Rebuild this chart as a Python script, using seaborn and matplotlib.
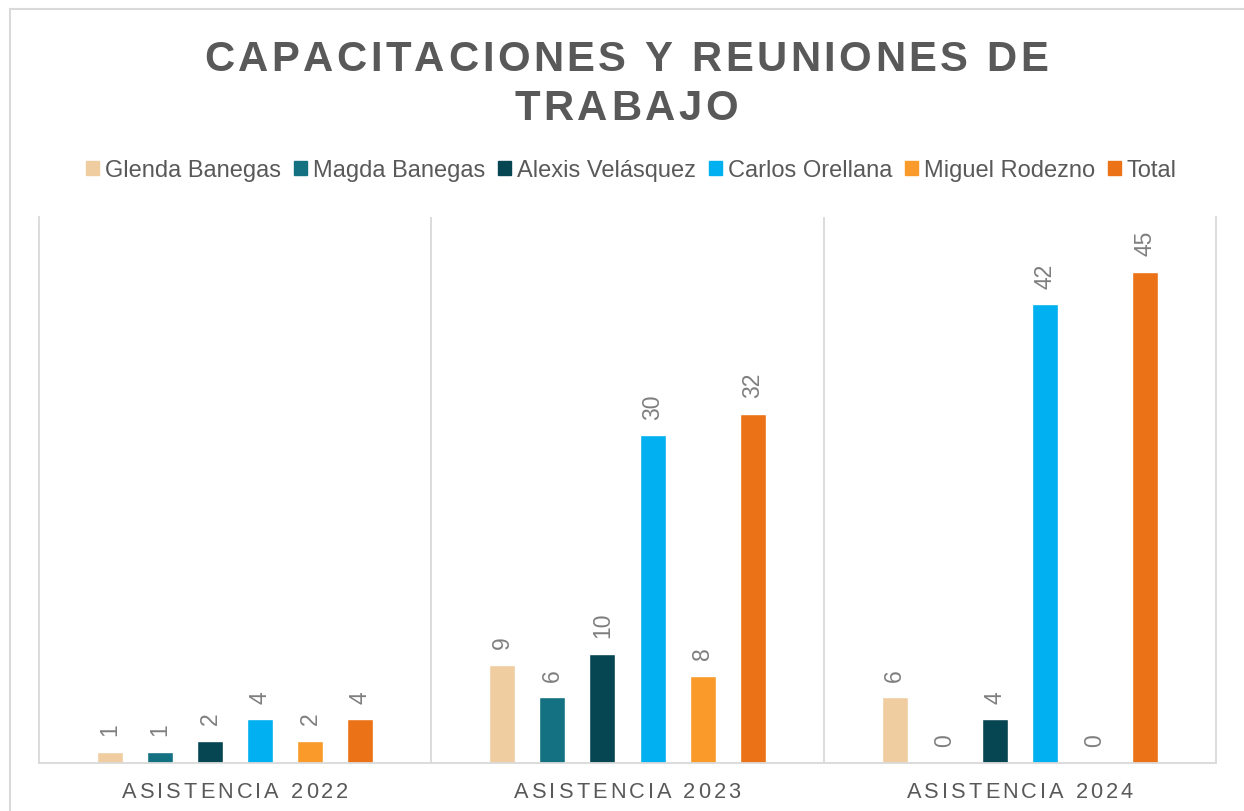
import seaborn as sns
import numpy as np
import pandas as pd
import matplotlib.pyplot as plt
from matplotlib.patches import Rectangle
from matplotlib.font_manager import FontProperties, findfont
from matplotlib.ft2font import FT2Font

#---------- DATA ----------
years = ["ASISTENCIA 2022", "ASISTENCIA 2023", "ASISTENCIA 2024"]
people = ["Glenda Banegas", "Magda Banegas", "Alexis Velásquez",
          "Carlos Orellana", "Miguel Rodezno", "Total"]
glenda = [1, 9, 6]
magda = [1, 6, 0]
alexis = [2, 10, 4]
carlos = [4, 30, 42]
miguel = [2, 8, 0]
total = [4, 32, 45]
colors = ["#F0CDA0", "#137182", "#064552", "#00B0F0", "#F99A2A", "#EB7217"]

title_lines = ["CAPACITACIONES Y REUNIONES DE", "TRABAJO"]

#Long form table for seaborn
series = [glenda, magda, alexis, carlos, miguel, total]
df = pd.DataFrame({
    "year": [y for s in series for y in years],
    "person": [p for p, s in zip(people, series) for _ in years],
    "value": [v for s in series for v in s],
})

W, H, DPI = 1244, 812, 100
GRID = "#D9D9D9"
TEXT = "#595959"

sns.set_theme(style="white")
plt.rcParams["font.family"] = ["Liberation Sans", "DejaVu Sans"]

fig = plt.figure(figsize=(W / DPI, H / DPI), dpi=DPI)


#Draws a line of text with extra letter spacing, centred on x (pixels, y from top = baseline)
def spaced_text(x, y, s, size, spacing, weight="normal", color=TEXT):
    fp = FontProperties(family="Liberation Sans", weight=weight)
    font = FT2Font(findfont(fp), hinting_factor=1)
    font.set_size(size, DPI)
    adv = [font.load_char(ord(ch)).linearHoriAdvance / 65536 for ch in s]
    width = sum(adv) + spacing * (len(s) - 1)
    cx = x - width / 2
    for ch, a in zip(s, adv):
        if ch != " ":
            fig.text((cx + a / 2) / W, 1 - y / H, ch, fontsize=size, weight=weight,
                     color=color, ha="center", va="baseline", family="Liberation Sans")
        cx += a + spacing


#Chart border (only top and left edges visible)
fig.add_artist(Rectangle((10 / W, -0.5), 2, 1.5 - 10 / H, transform=fig.transFigure,
                         fill=False, edgecolor=GRID, linewidth=1.5))

#Plot area
ax = fig.add_axes([39 / W, (H - 764) / H, (1216 - 39) / W, (764 - 218) / H])
sns.barplot(data=df, x="year", y="value", hue="person", hue_order=people,
            palette=colors, saturation=1, width=0.765, gap=0.48,
            errorbar=None, legend=False, ax=ax)

ax.set_xlim(-0.5, 2.5)
ax.set_ylim(0, 50)
ax.set_yticks([])
ax.set_xticks([0, 1, 2])
ax.set_xticklabels([])
ax.tick_params(length=0)
ax.set_xlabel("")
ax.set_ylabel("")
ax.spines["top"].set_visible(False)
for side in ["left", "right", "bottom"]:
    ax.spines[side].set_color(GRID)
    ax.spines[side].set_linewidth(1.3)
for xv in [0.5, 1.5]:
    ax.axvline(xv, color=GRID, linewidth=1.3)

#Rotated data labels
for cont in ax.containers:
    ax.bar_label(cont, padding=12, rotation=90, fontsize=16.5, color="#7F7F7F")

#Category labels
for i, yr in enumerate(years):
    px = ax.transData.transform((i, 0))[0]
    spaced_text(px, 798, yr, 15.7, 2.9)

#Title
spaced_text(626, 71, title_lines[0], 30.2, 3.4, weight="bold")
spaced_text(626, 120, title_lines[1], 30.2, 3.4, weight="bold")

#Legend
handles = [Rectangle((0, 0), 1, 1, color=c) for c in colors]
fig.legend(handles, people, loc="center", bbox_to_anchor=(631.5 / W, 1 - 171 / H),
           ncol=6, frameon=False, fontsize=17, labelcolor=TEXT,
           handlelength=0.55, handleheight=0.55, handletextpad=0.25,
           columnspacing=0.55, borderpad=0)

fig.savefig("out.png", dpi=DPI)
